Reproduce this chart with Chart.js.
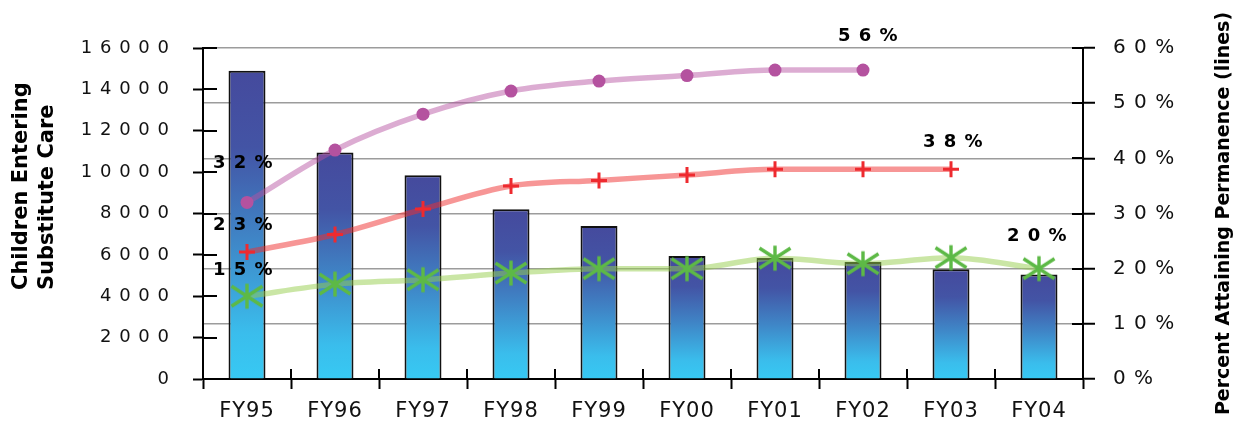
<!DOCTYPE html>
<html>
<head>
<meta charset="utf-8">
<script src="https://cdn.jsdelivr.net/npm/chart.js@4/dist/chart.umd.min.js"></script>
<style>
  html, body { margin: 0; padding: 0; background: #ffffff; }
  #wrap { width: 1239px; height: 421px; }
</style>
</head>
<body>
<div id="wrap"><canvas id="c" width="1239" height="421"></canvas></div>
<script>
// Fiscal years on the category axis
const categories = ['FY95', 'FY96', 'FY97', 'FY98', 'FY99', 'FY00', 'FY01', 'FY02', 'FY03', 'FY04'];

// Children entering substitute care (bars, left axis)
const childrenEntering = [14900, 10950, 9850, 8200, 7400, 5950, 5850, 5650, 5300, 5050];

// Percent attaining permanence (lines, right axis)
const permanenceTop = [32, 41.5, 48, 52.2, 54, 55, 56, 56];
const permanenceMid = [23, 26.2, 30.8, 35, 36, 37, 38, 38, 38];
const permanenceLow = [15, 17.2, 18, 19.2, 20, 20, 21.9, 20.9, 22, 20];

// Tick labels
const leftTickLabels = ['0', '2 0 0 0', '4 0 0 0', '6 0 0 0', '8 0 0 0', '1 0 0 0 0', '1 2 0 0 0', '1 4 0 0 0', '1 6 0 0 0'];
const rightTickLabels = ['0 %', '1 0 %', '2 0 %', '3 0 %', '4 0 %', '5 0 %', '6 0 %'];

const FONT = "'DejaVu Sans', Verdana, sans-serif";
Chart.defaults.font.family = FONT;
Chart.defaults.color = '#111111';

// six-armed asterisk marker for the lowest line
function makeAsterisk(color) {
  const c = document.createElement('canvas');
  c.width = 36; c.height = 30;
  const g = c.getContext('2d');
  g.strokeStyle = color; g.lineWidth = 3.4; g.lineCap = 'butt';
  const cx = 18, cy = 15;
  g.beginPath();
  g.moveTo(cx, cy - 12.5); g.lineTo(cx, cy + 12.5);
  g.moveTo(cx - 15.5, cy - 10); g.lineTo(cx + 15.5, cy + 10);
  g.moveTo(cx - 15.5, cy + 10); g.lineTo(cx + 15.5, cy - 10);
  g.stroke();
  return c;
}

// vertical gradient per bar: dark blue at the top, cyan at the base
function barGradient(ctx) {
  const chart = ctx.chart;
  const y = chart.scales.y;
  if (!y || ctx.raw == null) return '#4a5ba8';
  const top = y.getPixelForValue(ctx.raw);
  const base = y.getPixelForValue(0);
  if (!isFinite(top) || !isFinite(base) || base - top < 1) return '#4a5ba8';
  const gr = chart.ctx.createLinearGradient(0, top, 0, base);
  gr.addColorStop(0, '#454a9d');
  gr.addColorStop(0.25, '#4354a5');
  gr.addColorStop(0.55, '#3f86c7');
  gr.addColorStop(0.85, '#3abdec');
  gr.addColorStop(1, '#37c9f3');
  return gr;
}

function spaced(v) { return String(v).split('').join(' ') + ' %'; }

const framePlugin = {
  id: 'frame',
  beforeDraw(chart) {
    chart.ctx.letterSpacing = '1px';
  },
  beforeDatasetsDraw(chart) {
    const { ctx, chartArea: a, scales } = chart;
    ctx.save();
    ctx.strokeStyle = '#000';
    ctx.lineWidth = 2;
    ctx.beginPath();
    scales.y.ticks.forEach(t => {
      const py = Math.round(scales.y.getPixelForValue(t.value));
      ctx.moveTo(a.left, py); ctx.lineTo(a.left + 14, py);
    });
    scales.y2.ticks.forEach(t => {
      const py = Math.round(scales.y2.getPixelForValue(t.value));
      ctx.moveTo(a.right, py); ctx.lineTo(a.right - 11, py);
    });
    for (let i = 1; i < categories.length; i++) {
      const px = Math.round((scales.x.getPixelForValue(i - 1) + scales.x.getPixelForValue(i)) / 2);
      ctx.moveTo(px, a.bottom); ctx.lineTo(px, a.bottom - 10);
    }
    ctx.stroke();
    ctx.restore();
  },
  afterDraw(chart) {
    const { ctx, scales } = chart;
    ctx.save();
    ctx.fillStyle = '#000';

    // value callouts next to the first and last points of each line
    ctx.letterSpacing = '1px';
    ctx.font = 'bold 18px ' + FONT;
    ctx.textAlign = 'left';
    ctx.textBaseline = 'middle';
    const callouts = [
      { data: permanenceTop, i: 0, dx: -34, dy: -39 },
      { data: permanenceMid, i: 0, dx: -34, dy: -27 },
      { data: permanenceLow, i: 0, dx: -34, dy: -26 },
      { data: permanenceTop, i: permanenceTop.length - 1, dx: -25, dy: -34 },
      { data: permanenceMid, i: permanenceMid.length - 1, dx: -28, dy: -27 },
      { data: permanenceLow, i: permanenceLow.length - 1, dx: -32, dy: -32 }
    ];
    callouts.forEach(c => {
      const v = c.data[c.i];
      const px = scales.x.getPixelForValue(c.i);
      const py = scales.y2.getPixelForValue(v);
      ctx.fillText(spaced(v), px + c.dx, py + c.dy);
    });

    // axis titles
    ctx.letterSpacing = '0px';
    ctx.textBaseline = 'alphabetic';
    ctx.textAlign = 'left';
    ctx.font = 'bold 21px ' + FONT;
    ctx.save();
    ctx.translate(27, 290);
    ctx.rotate(-Math.PI / 2);
    ctx.fillText('Children Entering', 0, 0);
    ctx.restore();
    ctx.save();
    ctx.translate(53, 290);
    ctx.rotate(-Math.PI / 2);
    ctx.fillText('Substitute Care', 0, 0);
    ctx.restore();

    ctx.font = 'bold 19px ' + FONT;
    ctx.textAlign = 'center';
    ctx.save();
    ctx.translate(1229, (chart.chartArea.top + chart.chartArea.bottom) / 2);
    ctx.rotate(-Math.PI / 2);
    ctx.fillText('Percent Attaining Permanence (lines)', 0, 0);
    ctx.restore();

    ctx.restore();
  }
};

new Chart(document.getElementById('c'), {
  type: 'bar',
  data: {
    labels: categories,
    datasets: [
      {
        type: 'line',
        label: 'Permanence (upper)',
        data: permanenceTop,
        yAxisID: 'y2',
        order: 1,
        borderColor: 'rgba(181, 82, 160, 0.48)',
        borderWidth: 5.5,
        cubicInterpolationMode: 'monotone',
        pointStyle: 'circle',
        pointRadius: 6.5,
        pointBackgroundColor: '#b4529f',
        pointBorderColor: '#b4529f',
        pointBorderWidth: 0
      },
      {
        type: 'line',
        label: 'Permanence (middle)',
        data: permanenceMid,
        yAxisID: 'y2',
        order: 1,
        borderColor: 'rgba(240, 45, 45, 0.5)',
        borderWidth: 5.5,
        cubicInterpolationMode: 'monotone',
        pointStyle: 'cross',
        pointRadius: 8,
        pointBorderColor: '#ee2a2f',
        pointBorderWidth: 3
      },
      {
        type: 'line',
        label: 'Permanence (lower)',
        data: permanenceLow,
        yAxisID: 'y2',
        order: 1,
        borderColor: 'rgba(150, 205, 75, 0.5)',
        borderWidth: 5.5,
        cubicInterpolationMode: 'monotone',
        pointStyle: makeAsterisk('#5db946'),
        pointRadius: 12
      },
      {
        type: 'bar',
        label: 'Children Entering Substitute Care',
        data: childrenEntering,
        yAxisID: 'y',
        order: 2,
        backgroundColor: barGradient,
        borderColor: '#111',
        borderWidth: 2,
        barPercentage: 0.42,
        categoryPercentage: 1
      }
    ]
  },
  options: {
    responsive: false,
    devicePixelRatio: 1,
    animation: false,
    layout: { padding: { top: 48, left: 0, right: 0, bottom: 0 } },
    plugins: {
      legend: { display: false },
      tooltip: { enabled: false },
      title: { display: false }
    },
    scales: {
      x: {
        offset: true,
        afterFit(s) { s.height = 42; },
        grid: {
          offset: true,
          drawOnChartArea: false,
          tickLength: 10,
          tickColor: '#000',
          tickWidth: 2,
          color: '#000'
        },
        border: { display: true, color: '#000', width: 2 },
        ticks: { font: { size: 21 }, color: '#111', padding: 10, maxRotation: 0 }
      },
      y: {
        position: 'left',
        min: 0,
        max: 16000,
        afterFit(s) { s.width = 203; },
        afterBuildTicks(s) {
          s.ticks = leftTickLabels.map((_, i) => ({ value: i * 2000 }));
        },
        grid: {
          drawOnChartArea: false,
          tickLength: 10,
          tickColor: '#000',
          tickWidth: 2
        },
        border: { display: true, color: '#000', width: 2 },
        ticks: {
          font: { size: 18 },
          color: '#111',
          padding: 23,
          callback: (v, i) => leftTickLabels[i]
        }
      },
      y2: {
        position: 'right',
        min: 0,
        max: 60,
        afterFit(s) { s.width = 156; },
        afterBuildTicks(s) {
          s.ticks = rightTickLabels.map((_, i) => ({ value: i * 10 }));
        },
        grid: {
          drawOnChartArea: true,
          color: '#9c9c9c',
          lineWidth: 1.5,
          tickLength: 12,
          tickColor: '#000',
          tickWidth: 2
        },
        border: { display: true, color: '#000', width: 2 },
        ticks: {
          font: { size: 20 },
          color: '#111',
          padding: 18,
          callback: (v, i) => rightTickLabels[i]
        }
      }
    }
  },
  plugins: [framePlugin]
});
</script>
</body>
</html>
